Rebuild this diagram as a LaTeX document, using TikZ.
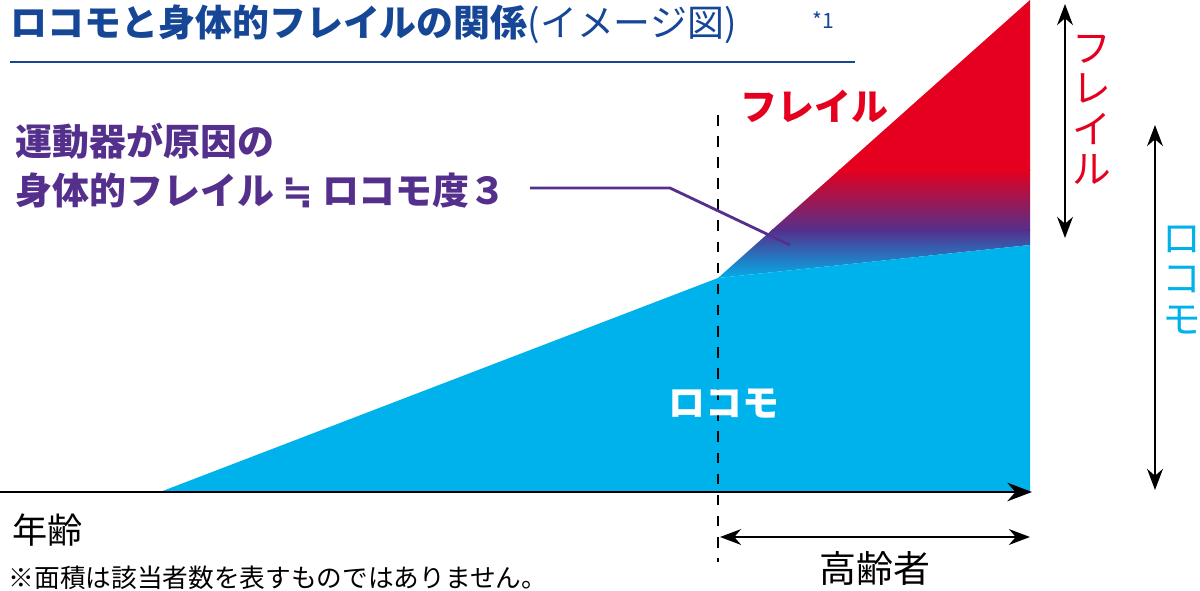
\documentclass[tikz,border=0pt]{standalone}
\usepackage{fontspec}
\setmainfont{Noto Sans CJK JP}
\newfontfamily\symfont{DejaVu Sans}
\usetikzlibrary{positioning,arrows.meta}
\definecolor{titleblue}{RGB}{22,70,150}
\definecolor{lococyan}{RGB}{0,178,236}
\definecolor{frailred}{RGB}{228,0,30}
\definecolor{frailpurple}{RGB}{84,48,140}
\tikzset{
  jtxt/.style={anchor=west,inner sep=0pt,font=\bfseries\fontsize{10.5pt}{12pt}\selectfont},
  dbl/.style={{Stealth[length=6pt]}-{Stealth[length=6pt]},line width=0.6pt},
  vtxt/.style={align=center,inner sep=0pt,font=\fontsize{11pt}{11.5pt}\selectfont}
}
\begin{document}
\begin{tikzpicture}[x=0.01cm,y=-0.01cm]
	\useasboundingbox (0,0) rectangle (1200,591);
	% title
	\node (title) [jtxt,text=titleblue] at (10,24) {ロコモと身体的フレイルの関係\mdseries(イメージ図)};
	\node (note1) [anchor=west,inner sep=0pt,text=titleblue,font=\fontsize{6pt}{7pt}\selectfont] at (812,20) {*1};
	\draw[titleblue,line width=0.8pt] (10,62) -- (855,62);
	% frail triangle
	\coordinate (P) at (718,278);
	\coordinate (T) at (1030,0);
	\coordinate (R) at (1030,245);
	\begin{scope}
		\clip (P) -- (T) -- (R) -- cycle;
		\fill[frailred] (700,-5) rectangle (1035,171);
		\shade[top color=frailred,bottom color=frailpurple] (700,170) rectangle (1035,231);
		\shade[top color=frailpurple,bottom color=lococyan] (700,230) rectangle (1035,280);
	\end{scope}
	% loco area
	\fill[lococyan] (160,492) -- (P) -- (R) -- (1030,492) -- cycle;
	% axis
	\coordinate (O) at (0,492);
	\coordinate (X) at (1032,492);
	\draw[-{Stealth[length=7pt]},line width=0.8pt] (O) -- (X);
	\draw[dashed,line width=0.6pt] (718,115) -- (718,562);
	% labels
	\node (frail) [jtxt,text=frailred] at (740,106) {フレイル};
	\node (loco) [jtxt,text=white] at (668,404) {ロコモ};
	\node (cause1) [jtxt,text=frailpurple] at (15,141) {運動器が原因の};
	\node (cause2) [jtxt,text=frailpurple] at (15,190) {身体的フレイル {\symfont ≒} ロコモ度３};
	\coordinate (L1) at (530,188);
	\coordinate (L2) at (670,188);
	\coordinate (L3) at (790,245);
	\draw[frailpurple,line width=0.8pt] (L1) -- (L2) -- (L3);
	\node (age) [anchor=west,inner sep=0pt,font=\fontsize{10pt}{12pt}\selectfont] at (12,530) {年齢};
	\node (note) [anchor=west,inner sep=0pt,font=\fontsize{7.3pt}{9pt}\selectfont] at (8,578) {※面積は該当者数を表すものではありません。};
	% right arrows
	\coordinate (fa) at (1065,4);
	\coordinate (fb) at (1065,238);
	\draw[dbl] (fa) -- (fb);
	\node (vfrail) [vtxt,text=frailred] at (1092,110) {フ\\レ\\イ\\ル};
	\coordinate (la) at (1155,125);
	\coordinate (lb) at (1155,490);
	\draw[dbl] (la) -- (lb);
	\node (vloco) [vtxt,text=lococyan] at (1182,280) {ロ\\コ\\モ};
	% elderly
	\coordinate (ea) at (720,537);
	\coordinate (eb) at (1030,537);
	\draw[dbl] (ea) -- (eb);
	\node (old) [font=\fontsize{10.5pt}{12pt}\selectfont,inner sep=0pt] at (875,568) {高齢者};
\end{tikzpicture}
\end{document}
